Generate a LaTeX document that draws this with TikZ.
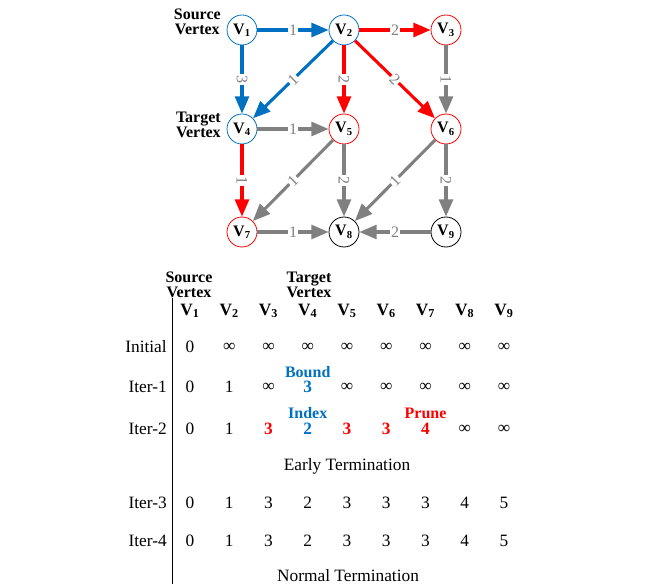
\documentclass[tikz,border=0pt]{standalone}
\usepackage{fontspec}
\setmainfont{Liberation Serif}
\usetikzlibrary{arrows.meta}
\definecolor{myblue}{RGB}{0,112,192}
\definecolor{mygray}{RGB}{128,128,128}
\begin{document}
\begin{tikzpicture}[x=0.75pt,y=-0.75pt,
  vertex/.style={draw,circle,minimum size=22.5pt,inner sep=0pt,line width=0.6pt,font=\fontsize{12}{13}\selectfont\bfseries},
  edge/.style={line width=2.3pt,-{Triangle[length=13pt,width=10.5pt]}},
  wt/.style={midway,sloped,fill=white,inner sep=0.8pt,text=mygray,font=\fontsize{12}{13}\selectfont},
  note/.style={align=center,inner sep=0pt,font=\fontsize{12}{11.5}\selectfont\bfseries},
  cell/.style={font=\fontsize{13}{14}\selectfont},
  hdr/.style={font=\fontsize{13}{14}\selectfont\bfseries},
  rowlab/.style={anchor=east,inner sep=0pt,font=\fontsize{13}{14}\selectfont}]
  \useasboundingbox (0,0) rectangle (655,584);
  % graph
  \node[vertex, draw=myblue] (V1) at (242,30) {V\textsubscript{1}};
  \node[vertex, draw=myblue] (V2) at (344,30) {V\textsubscript{2}};
  \node[vertex, draw=red] (V3) at (446,30) {V\textsubscript{3}};
  \node[vertex, draw=myblue] (V4) at (242,129) {V\textsubscript{4}};
  \node[vertex, draw=red] (V5) at (344,129) {V\textsubscript{5}};
  \node[vertex, draw=red] (V6) at (446,129) {V\textsubscript{6}};
  \node[vertex, draw=red] (V7) at (242,232) {V\textsubscript{7}};
  \node[vertex] (V8) at (344,232) {V\textsubscript{8}};
  \node[vertex] (V9) at (446,232) {V\textsubscript{9}};
  \node[note, anchor=east] (src) at (221,22) {Source\\Vertex};
  \node[note, anchor=east] (tgt) at (221,125) {Target\\Vertex};
  \draw[edge, color=myblue] (V1) -- node[wt] {1} (V2);
  \draw[edge, color=myblue] (V1) -- node[wt] {3} (V4);
  \draw[edge, color=myblue] (V2) -- node[wt] {1} (V4);
  \draw[edge, color=red] (V2) -- node[wt] {2} (V3);
  \draw[edge, color=red] (V2) -- node[wt] {2} (V5);
  \draw[edge, color=red] (V2) -- node[wt] {2} (V6);
  \draw[edge, color=red] (V4) -- node[wt] {1} (V7);
  \draw[edge, color=mygray] (V3) -- node[wt] {1} (V6);
  \draw[edge, color=mygray] (V4) -- node[wt] {1} (V5);
  \draw[edge, color=mygray] (V5) -- node[wt] {1} (V7);
  \draw[edge, color=mygray] (V5) -- node[wt] {2} (V8);
  \draw[edge, color=mygray] (V6) -- node[wt] {1} (V8);
  \draw[edge, color=mygray] (V6) -- node[wt] {2} (V9);
  \draw[edge, color=mygray] (V7) -- node[wt] {1} (V8);
  \draw[edge, color=mygray] (V9) -- node[wt] {2} (V8);
  % table
  \node[note] (tsrc) at (189,285) {Source\\Vertex};
  \node[note] (ttgt) at (309,285) {Target\\Vertex};
  \draw (172,298) -- (172,584);
  \foreach \i in {1,...,9}
    \node[hdr] (h\i) at ({190+39.25*(\i-1)},311) {V\textsubscript{\i}};
  \node[rowlab] (rInit) at (167,347) {Initial};
  \foreach \v [count=\i] in {0,∞,∞,∞,∞,∞,∞,∞,∞}
    \node[cell] (a\i) at ({190+39.25*(\i-1)},347) {\v};
  \node[rowlab] (rIt1) at (167,387) {Iter-1};
  \foreach \v [count=\i] in {0,1,∞,{\bfseries\color{myblue}3},∞,∞,∞,∞,∞}
    \node[cell] (b\i) at ({190+39.25*(\i-1)},387) {\v};
  \node[note, text=myblue] (bound) at (307.75,372) {Bound};
  \node[rowlab] (rIt2) at (167,429) {Iter-2};
  \foreach \v [count=\i] in {0,1,{\bfseries\color{red}3},{\bfseries\color{myblue}2},{\bfseries\color{red}3},{\bfseries\color{red}3},{\bfseries\color{red}4},∞,∞}
    \node[cell] (c\i) at ({190+39.25*(\i-1)},429) {\v};
  \node[note, text=myblue] (index) at (307.75,413) {Index};
  \node[note, text=red] (prune) at (425.5,413) {Prune};
  \node[cell] (early) at (347,466) {Early Termination};
  \node[rowlab] (rIt3) at (167,503) {Iter-3};
  \foreach \v [count=\i] in {0,1,3,2,3,3,3,4,5}
    \node[cell] (d\i) at ({190+39.25*(\i-1)},503) {\v};
  \node[rowlab] (rIt4) at (167,541) {Iter-4};
  \foreach \v [count=\i] in {0,1,3,2,3,3,3,4,5}
    \node[cell] (e\i) at ({190+39.25*(\i-1)},541) {\v};
  \node[cell] (normal) at (348,576) {Normal Termination};
\end{tikzpicture}
\end{document}
